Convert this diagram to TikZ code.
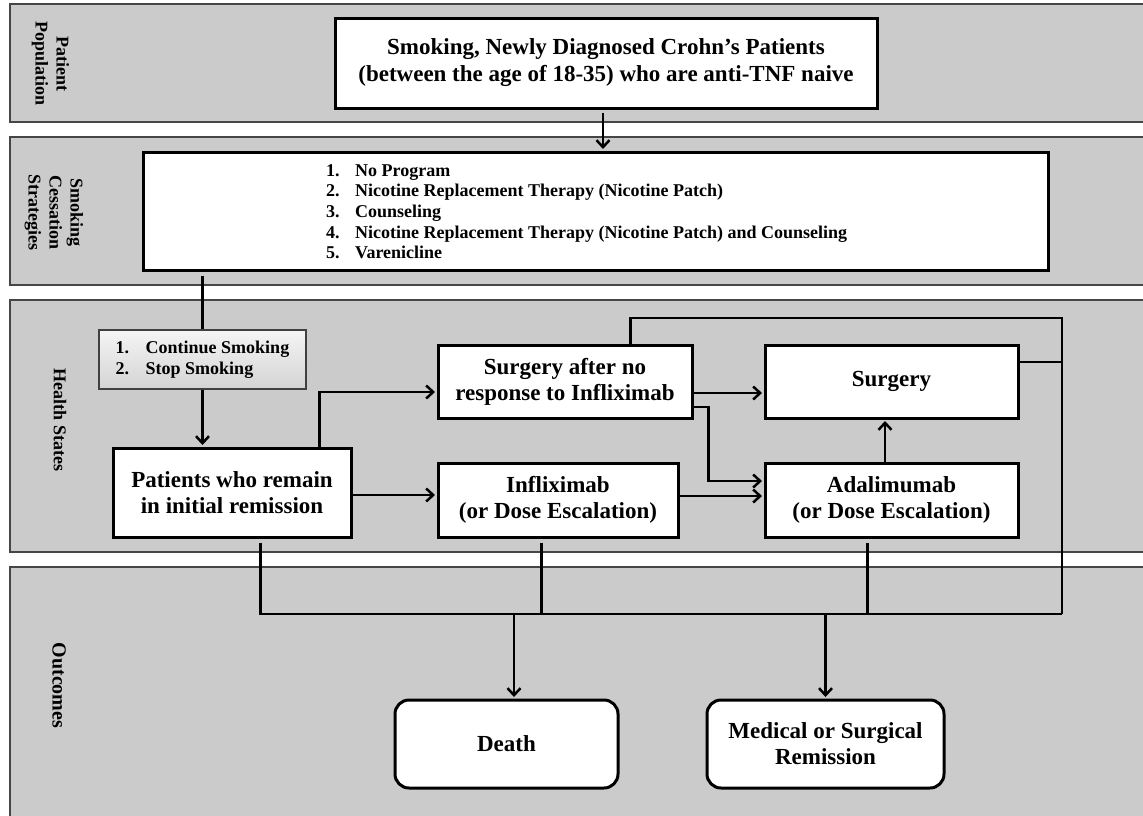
\documentclass[tikz,border=0pt]{standalone}
\usepackage{fontspec}
\setmainfont{Liberation Serif}
\usetikzlibrary{arrows.meta,calc}
\definecolor{lanegray}{RGB}{203,203,203}
\definecolor{laneline}{RGB}{70,70,70}
\begin{document}
\begin{tikzpicture}[x=1pt,y=-1pt,
  lane/.style={fill=lanegray, draw=laneline, line width=1.3pt},
  box/.style={draw=black, fill=white, line width=3pt, inner sep=0pt, align=center,
    font=\fontsize{23}{26}\selectfont\bfseries},
  rbox/.style={box, rounded corners=14pt},
  smokebox/.style={draw=black!75, line width=1.2pt, top color=white!96!black, bottom color=black!17,
    inner sep=0pt, align=left, font=\fontsize{18}{21}\selectfont\bfseries},
  listtext/.style={inner sep=0pt, font=\fontsize{18}{20.7}\selectfont\bfseries},
  lanelabel/.style={rotate=-90, align=center, inner sep=0pt, font=\fontsize{18}{21}\selectfont\bfseries},
  conn/.style={line width=2.5pt, draw=black},
  arr/.style={conn, -{Straight Barb[length=7pt,width=13pt]}, shorten >=1.5pt},
]
\useasboundingbox (0,0) rectangle (1143,815);
\fill[white] (0,0) rectangle (1143,815);

% swim lanes
\draw[lane] (10,4) rectangle (1160,122);
\draw[lane] (10,137) rectangle (1160,285);
\draw[lane] (10,300) rectangle (1160,552);
\draw[lane] (10,567) rectangle (1160,830);

% lane labels
\node[lanelabel] (lab1) at (50.5,63.5) {Patient\\Population};
\node[lanelabel] (lab2) at (54,212.5) {Smoking\\Cessation\\Strategies};
\node[lanelabel] (lab3) at (60,420) {Health States};
\node[lanelabel, font=\fontsize{20}{23}\selectfont\bfseries] (lab4) at (59,685.5) {Outcomes};

% boxes
\node[box, minimum width=542, minimum height=90, font=\fontsize{23}{27}\selectfont\bfseries] (top) at (606,63)
  {Smoking, Newly Diagnosed Crohn’s Patients\\(between the age of 18-35) who are anti-TNF naive};
\node[box, minimum width=905, minimum height=118] (strat) at (595.5,211) {};
\node[listtext, anchor=base west] (stratlist) at (326,176) {\begin{tabular}[t]{@{}l@{}}
  \makebox[29pt][l]{1.}No Program\\
  \makebox[29pt][l]{2.}Nicotine Replacement Therapy (Nicotine Patch)\\
  \makebox[29pt][l]{3.}Counseling\\
  \makebox[29pt][l]{4.}Nicotine Replacement Therapy (Nicotine Patch) and Counseling\\
  \makebox[29pt][l]{5.}Varenicline
\end{tabular}};
\node[smokebox, minimum width=207, minimum height=59] (smoke) at (202.5,359.5)
  {\makebox[30pt][l]{1.}Continue Smoking\\\makebox[30pt][l]{2.}Stop Smoking};
\node[box, minimum width=238, minimum height=89] (patients) at (232,492.5)
  {Patients who remain\\in initial remission};
\node[box, minimum width=254, minimum height=73] (sanr) at (565,381.5)
  {Surgery after no\\response to Infliximab};
\node[box, minimum width=240, minimum height=74] (inflix) at (558,500)
  {Infliximab\\(or Dose Escalation)};
\node[box, minimum width=253, minimum height=73] (surg) at (891.5,381.5) {Surgery};
\node[box, minimum width=253, minimum height=74] (adal) at (891.5,500)
  {Adalimumab\\(or Dose Escalation)};
\node[rbox, minimum width=223, minimum height=88] (death) at (506.5,744) {Death};
\node[rbox, minimum width=237, minimum height=88] (medical) at (825.5,744)
  {Medical or Surgical\\Remission};

% connectors
\coordinate (t1) at ($(top.south)+(-3,3)$);
\draw[arr] (t1) -- (t1 |- strat.north);
\coordinate (g1) at ($(strat.south -| smoke.north)+(0,4)$);
\draw[conn] (g1) -- (smoke.north);
\draw[arr] (smoke.south) -- (smoke.south |- patients.north);

\coordinate (p1) at ($(patients.north west)+(208,0)$);
\coordinate (s1) at ($(sanr.west)+(0,10.5)$);
\draw[arr] (p1) |- (s1);

\coordinate (i1) at ($(inflix.west)+(0,-5)$);
\draw[arr] (patients.east |- i1) -- (i1);

\coordinate (s2) at ($(sanr.east)+(0,11.5)$);
\draw[arr] (s2) -- (s2 -| surg.west);

\coordinate (s3) at ($(sanr.east)+(0,25.5)$);
\coordinate (a1) at ($(adal.west)+(0,-19)$);
\draw[arr] (s3) -- ++(15,0) |- (a1);

\coordinate (i2) at ($(inflix.east)+(0,-4)$);
\draw[arr] (i2) -- (i2 -| adal.west);

\coordinate (a2) at ($(adal.north)+(-6.5,0)$);
\draw[arr] (a2) -- (a2 |- surg.south);

% loop and bus
\coordinate (rc) at (1062,318);
\coordinate (rb) at (1062,614);
\coordinate (s4) at ($(sanr.north west)+(194,0)$);
\draw[conn] (s4) |- (rc) -- (rb);
\coordinate (s5) at ($(surg.east)+(0,-19.5)$);
\draw[conn] (s5) -- (s5 -| rc);
\coordinate (p2) at ($(patients.south west)+(149,4)$);
\draw[conn] (p2) |- (rb);
\coordinate (i3) at ($(inflix.south west)+(105,4)$);
\draw[conn] (i3) -- (i3 |- rb);
\coordinate (a3) at ($(adal.south west)+(104,4)$);
\draw[conn] (a3) -- (a3 |- rb);

\coordinate (d1) at ($(death.north)+(7.5,0)$);
\draw[arr] (d1 |- rb) -- (d1);
\draw[arr] (medical.north |- rb) -- (medical.north);
\end{tikzpicture}
\end{document}
